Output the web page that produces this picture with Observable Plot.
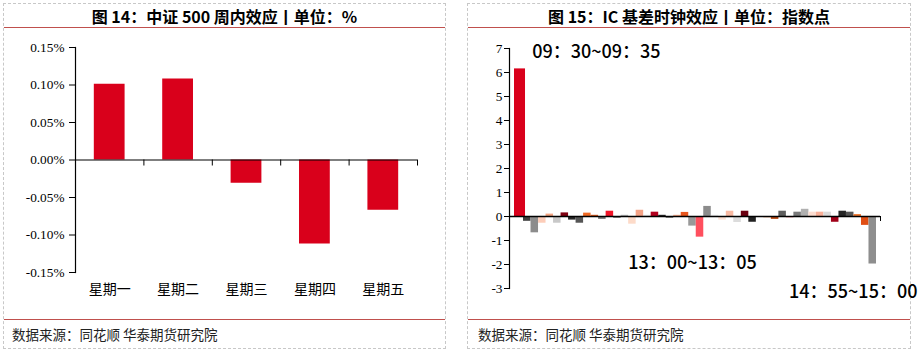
<!DOCTYPE html>
<html>
<head>
<meta charset="utf-8">
<script src="https://cdn.jsdelivr.net/npm/d3@7"></script>
<script src="https://cdn.jsdelivr.net/npm/@observablehq/plot@0.6"></script>
<style>
  html, body { margin: 0; padding: 0; background: #fff; }
  #root { position: relative; width: 921px; height: 352px; overflow: hidden; font-family: "Noto Sans CJK SC", "Noto Sans", sans-serif; color: #000; }
  .panel { position: absolute; top: 3px; height: 346px; box-sizing: border-box; border: 1px dashed #c8c8c8; overflow: visible; }
  .title { position: absolute; left: 0; right: 0; top: 0; height: 24px; line-height: 24px; text-align: center; font-size: 16px; font-weight: bold; color: #000; white-space: nowrap; }
  .redline { position: absolute; left: 0; right: 0; height: 1px; background: #c0504d; }
  .chart { position: absolute; left: -1px; top: 24px; }
  .chart svg { overflow: visible; max-width: none !important; display: block; }
  .source { position: absolute; top: 321px; height: 18px; line-height: 18px; font-size: 13.5px; color: #222; white-space: nowrap; }
</style>
</head>
<body>
<div id="root">
  <div class="panel" style="left:3px;width:443px;">
    <div class="title">图&nbsp;14：中证 500 周内效应丨单位：%</div>
    <div class="redline" style="top:23px;"></div>
    <div class="chart" id="left" style="width:443px;height:290px;"></div>
    <div class="redline" style="top:315px;"></div>
    <div class="source" style="left:8px;">数据来源：同花顺 华泰期货研究院</div>
  </div>
  <div class="panel" style="left:467px;width:444px;">
    <div class="title">图&nbsp;15：IC 基差时钟效应丨单位：指数点</div>
    <div class="redline" style="top:23px;"></div>
    <div class="chart" id="right" style="width:454px;height:290px;"></div>
    <div class="redline" style="top:315px;"></div>
    <div class="source" style="left:10px;">数据来源：同花顺 华泰期货研究院</div>
  </div>
</div>
<script>
// ---------- Data: weekday effect (CSI 500), unit % ----------
const weekdays = ["星期一", "星期二", "星期三", "星期四", "星期五"];
const weekEffect = [0.101, 0.108, -0.031, -0.112, -0.067];
const weekTicks = [-0.15, -0.10, -0.05, 0, 0.05, 0.10, 0.15];

// ---------- Data: IC basis clock effect, unit index points ----------
const slots = [
  "09:30~09:35","09:35~09:40","09:40~09:45","09:45~09:50","09:50~09:55","09:55~10:00",
  "10:00~10:05","10:05~10:10","10:10~10:15","10:15~10:20","10:20~10:25","10:25~10:30",
  "10:30~10:35","10:35~10:40","10:40~10:45","10:45~10:50","10:50~10:55","10:55~11:00",
  "11:00~11:05","11:05~11:10","11:10~11:15","11:15~11:20","11:20~11:25","11:25~11:30",
  "13:00~13:05","13:05~13:10","13:10~13:15","13:15~13:20","13:20~13:25","13:25~13:30",
  "13:30~13:35","13:35~13:40","13:40~13:45","13:45~13:50","13:50~13:55","13:55~14:00",
  "14:00~14:05","14:05~14:10","14:10~14:15","14:15~14:20","14:20~14:25","14:25~14:30",
  "14:30~14:35","14:35~14:40","14:40~14:45","14:45~14:50","14:50~14:55","14:55~15:00"
];
const basisEffect = [
  6.15, -0.20, -0.68, -0.28, 0.10, -0.28, 0.15, -0.15, -0.28, 0.14, 0.05, -0.12,
  0.22, -0.07, 0.05, -0.32, 0.26, 0.05, 0.18, 0.05, -0.07, 0.05, 0.17, -0.40,
  -0.86, 0.42, 0.05, -0.15, 0.22, -0.25, 0.22, -0.24, -0.03, -0.05, -0.12, 0.22,
  -0.05, 0.18, 0.30, 0.18, 0.18, 0.18, -0.24, 0.22, 0.18, 0.08, -0.37, -1.98
];
const barColors = [
  "#d9001b","#404040","#8c8c8c","#fdcdb9","#f4a582","#c8c8c8","#7f0011","#262626","#555555","#f06a24","#d95a1e","#737373",
  "#f01428","#5a5a5a","#b8b8b8","#fddbc9","#f4a286","#e3e3e3","#b2001e","#262626","#595959","#f7a889","#e8561e","#999999",
  "#ff4f5e","#8c8c8c","#ebebeb","#fde1d3","#f8b9a2","#dcdcdc","#6b0010","#222222","#3c4b4b","#e8661e","#b4440f","#5e5e5e",
  "#f0283c","#7a7a7a","#b0b0b0","#fdddd0","#f8af98","#d9d9d9","#a00018","#262626","#555555","#f07830","#e04e14","#8e8e8e"
];
const basisTicks = [-3, -2, -1, 0, 1, 2, 3, 4, 5, 6, 7];
const annotations = [
  {slot: "09:30~09:35", label: "09：30~09：35"},
  {slot: "13:00~13:05", label: "13：00~13：05"},
  {slot: "14:55~15:00", label: "14：55~15：00"}
];

// ---------- Left chart ----------
const weekData = weekdays.map((d, i) => ({day: d, v: weekEffect[i]}));
{
  const W = 443, H = 290, mL = 72, mR = 29, mT = 19, mB = 46;
  const step = (W - mL - mR) / weekdays.length;
  const tickLen = 6 * 0.30 / (H - mT - mB);
  const left = Plot.plot({
    width: W, height: H,
    marginLeft: mL, marginRight: mR, marginTop: mT, marginBottom: mB,
    style: {background: "transparent", color: "#000", overflow: "visible", maxWidth: "none"},
    x: {domain: weekdays, paddingInner: 0.55, paddingOuter: 0.275, round: false},
    y: {domain: [-0.15, 0.15]},
    marks: [
      Plot.barY(weekData, {x: "day", y: "v", fill: "#d9001b"}),
      Plot.ruleY([0], {stroke: "#000", strokeWidth: 1.2}),
      Plot.ruleX(weekdays, {x: d => d, y1: 0, y2: -tickLen, dx: step / 2, stroke: "#000"}),
      Plot.frame({anchor: "left", stroke: "#000", strokeWidth: 1.2}),
      Plot.axisY({ticks: weekTicks, tickFormat: d => d.toFixed(2) + "%", tickSize: 6, tickPadding: 5,
                  label: null, fontSize: 13.3, fontFamily: "Liberation Serif", stroke: "#000"}),
      Plot.axisX({tickSize: 0, tickPadding: 12, label: null, fontSize: 14, fontFamily: "Noto Sans CJK SC"})
    ]
  });
  document.getElementById("left").appendChild(left);
}

// ---------- Right chart ----------
const basisData = slots.map((s, i) => ({slot: s, v: basisEffect[i], c: barColors[i]}));
{
  const W = 454, H = 290, mL = 42, mR = 41, mT = 20, mB = 30;
  const rangeL = 48.5, rangeR = 409;
  const bw = (rangeR - rangeL) / slots.length;
  const tickLen = 5 * 10 / (H - mT - mB);
  const byslot = new Map(basisData.map(d => [d.slot, d]));
  const ann = annotations.map(a => ({...a, v: byslot.get(a.slot).v}));
  const right = Plot.plot({
    width: W, height: H,
    marginLeft: mL, marginRight: mR, marginTop: mT, marginBottom: mB,
    style: {background: "transparent", color: "#000", overflow: "visible", maxWidth: "none"},
    x: {domain: slots, range: [rangeL, rangeR], padding: 0, round: false, axis: null},
    y: {domain: [-3, 7]},
    marks: [
      Plot.barY(basisData.slice(0, 1), {x: "slot", y: "v", fill: d => d.c, insetLeft: -1.5, insetRight: -2}),
      Plot.barY(basisData.slice(1), {x: "slot", y: "v", fill: d => d.c}),
      Plot.ruleY([0], {stroke: "#000", strokeWidth: 1.3}),
      Plot.ruleX([slots[slots.length - 1]], {x: d => d, y1: 0, y2: -tickLen, dx: bw / 2 + (W - mR - rangeR), stroke: "#000"}),
      Plot.frame({anchor: "left", stroke: "#000", strokeWidth: 1.2}),
      Plot.axisY({ticks: basisTicks, tickFormat: d => String(d), tickSize: 5, tickPadding: 2,
                  label: null, fontSize: 13.3, fontFamily: "Liberation Serif", stroke: "#000"}),
      Plot.text(ann.slice(0, 1), {x: "slot", y: "v", text: "label", textAnchor: "start", dx: 12.5, dy: -16.5,
                  fontSize: 18, fontWeight: 500, fontFamily: "Noto Sans CJK SC", fill: "#000"}),
      Plot.text(ann.slice(1, 2), {x: "slot", y: "v", text: "label", textAnchor: "middle", dx: -7.5, dy: 26,
                  fontSize: 18, fontWeight: 500, fontFamily: "Noto Sans CJK SC", fill: "#000"}),
      Plot.text(ann.slice(2, 3), {x: "slot", y: "v", text: "label", textAnchor: "middle", dx: -19.5, dy: 28,
                  fontSize: 18, fontWeight: 500, fontFamily: "Noto Sans CJK SC", fill: "#000"})
    ]
  });
  document.getElementById("right").appendChild(right);
}
</script>
</body>
</html>
